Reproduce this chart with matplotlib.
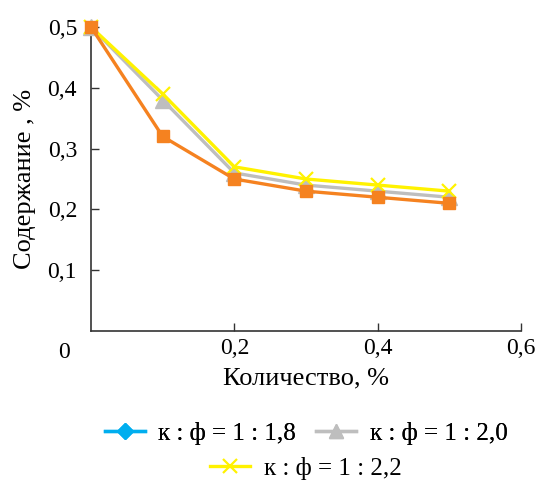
import matplotlib
matplotlib.use("Agg")
import matplotlib.pyplot as plt
from matplotlib.lines import Line2D

plt.rcParams['font.family'] = 'Liberation Serif'

# Amount added, %
amount = [0.0, 0.1, 0.2, 0.3, 0.4, 0.5]
# Content, % for each k:f ratio
content_18 = [0.50, 0.32, 0.25, 0.23, 0.22, 0.21]
content_20 = [0.50, 0.38, 0.26, 0.24, 0.23, 0.22]
content_22 = [0.50, 0.39, 0.27, 0.25, 0.24, 0.23]

labels = ["к : ф = 1 : 1,8", "к : ф = 1 : 2,0", "к : ф = 1 : 2,2"]
x_ticks = [0.2, 0.4, 0.6]
x_tick_labels = ["0,2", "0,4", "0,6"]
y_ticks = [0.1, 0.2, 0.3, 0.4, 0.5]
y_tick_labels = ["0,1", "0,2", "0,3", "0,4", "0,5"]

ORANGE = "#F58220"
GRAY = "#BEBEBE"
YELLOW = "#FFF200"
BLUE = "#00AEEF"
FS_TICK = 17
FS_LABEL = 19
FS_LEG = 18

fig = plt.figure(figsize=(5.38, 4.86), dpi=100)
ax = fig.add_axes([91/538, 1 - 331/486, (521 - 91)/538, (331 - 27)/486])

ax.plot(amount, content_20, color=GRAY, lw=2.4, marker="^", ms=11,
        mec=GRAY, mfc=GRAY, clip_on=False, zorder=3)
ax.plot(amount, content_22, color=YELLOW, lw=2.4, marker="x", ms=10,
        mew=1.6, mec=YELLOW, clip_on=False, zorder=4)
ax.plot(amount, content_18, color=ORANGE, lw=2.4, marker="s", ms=9,
        mec=ORANGE, mfc=ORANGE, clip_on=False, zorder=5)

ax.set_xlim(0, 0.6)
ax.set_ylim(0, 0.5)
ax.set_xticks(x_ticks)
ax.set_xticklabels(x_tick_labels)
ax.set_yticks(y_ticks)
ax.set_yticklabels(y_tick_labels)
ax.tick_params(direction="in", length=6, width=1.0, labelsize=FS_TICK, color="#333333")
ax.tick_params(axis="y", pad=10)
ax.tick_params(axis="x", pad=5)
for s in ["top", "right"]:
    ax.spines[s].set_visible(False)
for s in ["left", "bottom"]:
    ax.spines[s].set_linewidth(1.2)
    ax.spines[s].set_color("#333333")

ax.text(-0.038, -0.035, "0", transform=ax.transData, fontsize=FS_TICK,
        ha="center", va="center", clip_on=False)

ax.set_xlabel("Количество, %", fontsize=FS_LABEL, labelpad=6)
ax.set_ylabel("Содержание , %", fontsize=FS_LABEL, labelpad=8)

h18 = Line2D([], [], color=BLUE, lw=2.4, marker="D", ms=8, mfc=BLUE, mec=BLUE)
h20 = Line2D([], [], color=GRAY, lw=2.4, marker="^", ms=10, mfc=GRAY, mec=GRAY)
h22 = Line2D([], [], color=YELLOW, lw=2.4, marker="x", ms=10, mew=1.6)

cx = 306 / 538
leg1 = fig.legend([h18, h20], labels[:2], loc="center", ncol=2,
                  bbox_to_anchor=(cx, 1 - 433/486), frameon=False,
                  fontsize=FS_LEG, handlelength=1.6, columnspacing=0.8,
                  handletextpad=0.55, borderpad=0, borderaxespad=0)
leg2 = fig.legend([h22], labels[2:], loc="center",
                  bbox_to_anchor=(cx, 1 - 468/486), frameon=False,
                  fontsize=FS_LEG, handlelength=1.6, handletextpad=0.55,
                  borderpad=0, borderaxespad=0)
fig.add_artist(leg1)

fig.savefig("out.png", dpi=100)
